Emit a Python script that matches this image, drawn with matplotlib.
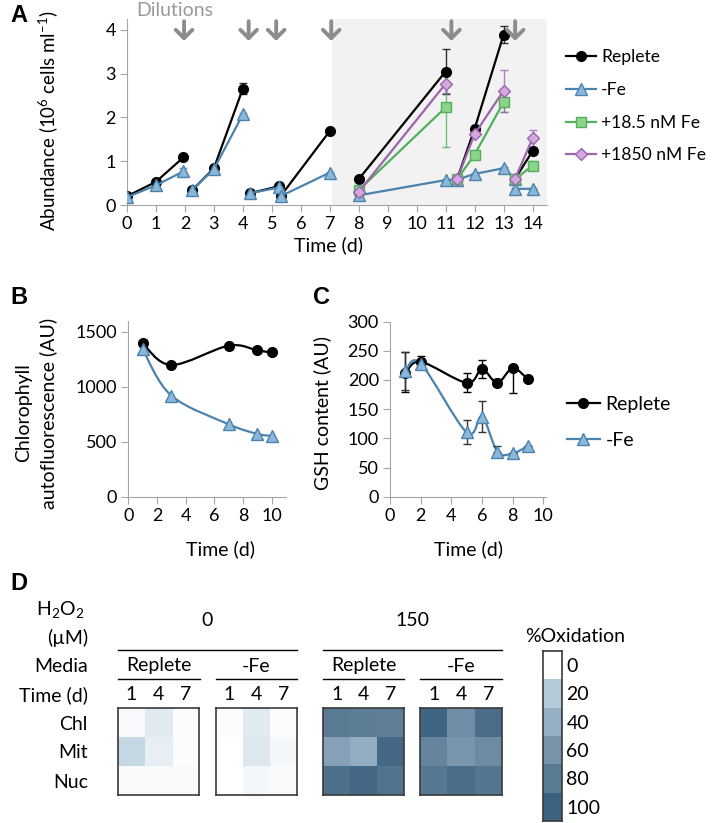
import numpy as np
import matplotlib
matplotlib.use("Agg")
from matplotlib import pyplot as plt
from matplotlib.path import Path
from matplotlib.patches import PathPatch
from matplotlib.colors import LinearSegmentedColormap

plt.rcParams['font.family'] = ['Lato', 'DejaVu Sans']
plt.rcParams['mathtext.fontset'] = 'custom'
plt.rcParams['mathtext.rm'] = 'Lato'
plt.rcParams['mathtext.default'] = 'rm'

nan = np.nan

# ---- panel A data (segments separated by nan = dilutions) ----
rep_x = [0, 1, 1.95, nan, 2.25, 3, 4.0, nan, 4.25, 5.25, nan, 5.3, 7, nan, 8, 11, nan, 11.4, 12, 13, nan, 13.4, 14]
rep_y = [0.2, 0.53, 1.09, nan, 0.34, 0.84, 2.66, nan, 0.27, 0.43, nan, 0.2, 1.69, nan, 0.59, 3.05, nan, 0.6, 1.74, 3.89, nan, 0.6, 1.23]
rep_e = [0.02, 0.03, 0.03, nan, 0.02, 0.03, 0.12, nan, 0.02, 0.03, nan, 0.02, 0.03, nan, 0.02, 0.52, nan, 0.02, 0.04, 0.19, nan, 0.02, 0.04]

fe_x = [0, 1, 1.95, nan, 2.25, 3, 4.0, nan, 4.25, 5.25, nan, 5.3, 7, nan, 8, 11, 11.4, 12, 13, 13.4, nan, 13.4, 14]
fe_y = [0.18, 0.45, 0.77, nan, 0.35, 0.82, 2.07, nan, 0.27, 0.4, nan, 0.2, 0.74, nan, 0.22, 0.57, 0.58, 0.71, 0.84, 0.6, nan, 0.37, 0.37]
fe_e = [0.02, 0.03, 0.08, nan, 0.02, 0.03, 0.03, nan, 0.02, 0.02, nan, 0.02, 0.02, nan, 0.02, 0.02, 0.02, 0.03, 0.03, 0.02, nan, 0.02, 0.02]

lo_x = [8, 11, nan, 11.4, 12, 13, nan, 13.4, 14]
lo_y = [0.34, 2.23, nan, 0.59, 1.15, 2.35, nan, 0.59, 0.9]
lo_e = [0.02, 0.9, nan, 0.02, 0.05, 0.22, nan, 0.02, 0.1]

hi_x = [8, 11, nan, 11.4, 12, 13, nan, 13.4, 14]
hi_y = [0.3, 2.77, nan, 0.6, 1.62, 2.61, nan, 0.6, 1.52]
hi_e = [0.02, 0.2, nan, 0.02, 0.05, 0.48, nan, 0.02, 0.2]

dilution_days = [1.97, 4.2, 5.15, 7.05, 11.2, 13.4]

# ---- panel B data ----
chl_days = [1, 3, 7, 9, 10]
chl_rep = [1395, 1197, 1373, 1330, 1311]
chl_fe = [1340, 919, 659, 571, 553]

# ---- panel C data ----
gsh_days = [1, 2, 5, 6, 7, 8, 9]
gsh_rep = [211, 231, 195, 218, 195, 220, 201]
gsh_rep_lo = [31, 12, 16, 15, 5, 42, 0]
gsh_rep_hi = [37, 10, 17, 16, 6, 0, 0]
gsh_fe = [215, 228, 110, 137, 77, 74, 87]
gsh_fe_lo = [32, 0, 20, 27, 0, 0, 0]
gsh_fe_hi = [32, 0, 22, 27, 9, 0, 0]

# ---- panel D data (% oxidation, rows Chl/Mit/Nuc, cols day 1/4/7) ----
ox_0_rep = [[2, 8, 1], [15, 6, 1], [2, 2, 2]]
ox_0_fe = [[1, 8, 1], [0, 9, 3], [0, 3, 2]]
ox_150_rep = [[80, 78, 76], [50, 42, 95], [88, 95, 85]]
ox_150_fe = [[97, 65, 90], [72, 58, 67], [82, 90, 83]]
rows = ["Chl", "Mit", "Nuc"]
days_d = ["1", "4", "7"]
levels = [0, 20, 40, 60, 80, 100]
level_colors = ['#ffffff', '#b3cadb', '#95b0c5', '#7894ab', '#597b94', '#3d6280']

W, H = 714, 823
fig = plt.figure(figsize=(W / 100, H / 100), dpi=100)
FS = 14      # titles / labels
TS = 13      # tick labels


def rect(x0, y0, x1, y1):
    return [x0 / W, 1 - y1 / H, (x1 - x0) / W, (y1 - y0) / H]


def ftext(x, y, s, **kw):
    fig.text(x / W, 1 - y / H, s, **kw)


def excel_axes(ax):
    for s in ['top', 'right']:
        ax.spines[s].set_visible(False)
    for s in ['left', 'bottom']:
        ax.spines[s].set_color('#a6a6a6')
    ax.tick_params(direction='out', length=5, color='#a6a6a6', labelsize=TS, pad=3)


def smooth(ax, x, y, color, lw=1.6):
    p = np.column_stack([x, y]).astype(float)
    n = len(p)
    verts = [p[0]]
    codes = [Path.MOVETO]
    for i in range(n - 1):
        a = p[i - 1] if i > 0 else p[i]
        d = p[i + 2] if i + 2 < n else p[i + 1]
        c1 = p[i] + (p[i + 1] - a) / 6
        c2 = p[i + 1] - (d - p[i]) / 6
        verts += [c1, c2, p[i + 1]]
        codes += [Path.CURVE4] * 3
    ax.add_patch(PathPatch(Path(verts, codes), fill=False, edgecolor=color, lw=lw, zorder=2))


BLUE_L, BLUE_F = '#4a83ad', '#8db7d8'
GREEN_L, GREEN_F = '#52b05c', '#8ed38c'
PURP_L, PURP_F = '#9a65ab', '#d2a8df'

# ================= A =================
axA = fig.add_axes(rect(127, 19, 547, 205))
excel_axes(axA)
axA.axvspan(7.07, 14.5, ymin=0, ymax=1, color='#f2f2f2', zorder=0, lw=0)
series = [
    (rep_x, rep_y, rep_e, 'k', 'k', 'k', 'o', 7, 'Replete'),
    (fe_x, fe_y, fe_e, BLUE_L, BLUE_F, BLUE_L, '^', 8, '-Fe'),
    (lo_x, lo_y, lo_e, GREEN_L, GREEN_F, GREEN_L, 's', 7, '+18.5 nM Fe'),
    (hi_x, hi_y, hi_e, PURP_L, PURP_F, PURP_L, 'D', 6, '+1850 nM Fe'),
]
for x, y, e, lc, fc, ec, m, ms, lab in series:
    axA.errorbar(x, y, yerr=e, fmt='none', ecolor=lc, elinewidth=1, capsize=3, zorder=2, alpha=0.8)
    axA.plot(x, y, color=lc, lw=1.6, marker=m, ms=ms, mfc=fc, mec=ec, mew=1, label=lab, zorder=3)
axA.set_xlim(0, 14.5)
axA.set_ylim(0, 4.25)
axA.set_xticks(range(15))
axA.set_yticks(range(5))
for d in dilution_days:
    axA.annotate('', xy=(d, 3.75), xytext=(d, 4.2), annotation_clip=False,
                 arrowprops=dict(arrowstyle='->,head_width=0.6,head_length=0.6', color='#8c8c8c', lw=2.8,
                                 shrinkA=0, shrinkB=0))
ftext(175, 11, 'Dilutions', color='#999999', fontsize=FS, ha='center', va='center')
ftext(328, 245, 'Time (d)', fontsize=FS, ha='center', va='center')
ftext(48, 121, 'Abundance (10$^{6}$ cells ml$^{-1}$)', fontsize=13.5, rotation=90, ha='center', va='center')
axA.legend(loc='center left', bbox_to_anchor=(1.045, 0.53), frameon=False, fontsize=12.6,
           handlelength=1.7, labelspacing=0.95, handletextpad=0.3, borderaxespad=0, borderpad=0)

# ================= B =================
axB = fig.add_axes(rect(128.3, 320.7, 286, 496.7))
excel_axes(axB)
smooth(axB, chl_days, chl_rep, 'k')
smooth(axB, chl_days, chl_fe, BLUE_L)
axB.plot(chl_days, chl_rep, ls='none', marker='o', ms=7, mfc='k', mec='k', zorder=3)
axB.plot(chl_days, chl_fe, ls='none', marker='^', ms=8, mfc=BLUE_F, mec=BLUE_L, zorder=3)
axB.set_xlim(0, 11)
axB.set_ylim(0, 1600)
axB.set_xticks([0, 2, 4, 6, 8, 10])
axB.set_yticks([0, 500, 1000, 1500])
ftext(221, 549, 'Time (d)', fontsize=FS, ha='center', va='center')
ftext(36, 413, 'Chlorophyll\nautofluorescence (AU)', fontsize=FS, rotation=90, ha='center', va='center',
      linespacing=1.5)

# ================= C =================
axC = fig.add_axes(rect(390, 321.5, 546.4, 496.7))
excel_axes(axC)
smooth(axC, gsh_days, gsh_rep, 'k')
smooth(axC, gsh_days, gsh_fe, BLUE_L)
axC.errorbar(gsh_days, gsh_rep, yerr=[gsh_rep_lo, gsh_rep_hi], fmt='none', ecolor='k', elinewidth=1, capsize=3, zorder=2)
axC.errorbar(gsh_days, gsh_fe, yerr=[gsh_fe_lo, gsh_fe_hi], fmt='none', ecolor='#333333', elinewidth=1, capsize=3, zorder=2)
axC.plot(gsh_days, gsh_rep, ls='none', marker='o', ms=7, mfc='k', mec='k', zorder=3)
axC.plot(gsh_days, gsh_fe, ls='none', marker='^', ms=8, mfc=BLUE_F, mec=BLUE_L, zorder=3)
axC.plot([], [], color='k', lw=1.6, marker='o', ms=7, label='Replete')
axC.plot([], [], color=BLUE_L, lw=1.6, marker='^', ms=8, mfc=BLUE_F, mec=BLUE_L, label='-Fe')
axC.set_xlim(0, 10.2)
axC.set_ylim(0, 300)
axC.set_xticks([0, 2, 4, 6, 8, 10])
axC.set_yticks(range(0, 301, 50))
axC.legend(loc='center left', bbox_to_anchor=(1.13, 0.425), frameon=False, fontsize=14,
           handlelength=1.7, labelspacing=1.0, handletextpad=0.3, borderaxespad=0, borderpad=0)
ftext(468, 549, 'Time (d)', fontsize=FS, ha='center', va='center')
ftext(322, 413, 'GSH content (AU)', fontsize=FS, rotation=90, ha='center', va='center')

# ================= D =================
cmap = LinearSegmentedColormap.from_list('ox', list(zip(np.array(levels) / 100, level_colors)))
blocks = [(118, 199.3, ox_0_rep), (215.7, 296.7, ox_0_fe), (323.3, 404.3, ox_150_rep), (420.3, 501.7, ox_150_fe)]
for x0, x1, vals in blocks:
    ax = fig.add_axes(rect(x0, 708, x1, 795))
    ax.imshow(vals, cmap=cmap, vmin=0, vmax=100, aspect='auto', interpolation='nearest')
    ax.set_xticks([])
    ax.set_yticks([])
    for s in ax.spines.values():
        s.set_color('#3a3a3a')
        s.set_linewidth(1.2)
    cw = (x1 - x0) / 3
    for i, lab in enumerate(days_d):
        ftext(x0 + cw * (i + 0.5), 695, lab, fontsize=FS, ha='center', va='center')

for i, lab in enumerate(rows):
    ftext(88, 724 + 29 * i, lab, fontsize=FS, ha='right', va='center')
ftext(88, 695, 'Time (d)', fontsize=FS, ha='right', va='center')
ftext(88, 667, 'Media', fontsize=FS, ha='right', va='center')
ftext(88, 638, '(µM)', fontsize=FS, ha='right', va='center')
ftext(84, 609, 'H$_2$O$_2$', fontsize=FS, ha='right', va='center')
ftext(207, 621, '0', fontsize=FS, ha='center', va='center')
ftext(412, 621, '150', fontsize=FS, ha='center', va='center')
for xa, xb in [(118, 297), (323, 502)]:
    fig.add_artist(plt.Line2D([xa / W, xb / W], [1 - 650 / H] * 2, color='k', lw=1))
for (xa, xb), lab in zip([(118, 200), (215.7, 297), (323, 404), (420, 502)], ['Replete', '-Fe', 'Replete', '-Fe']):
    fig.add_artist(plt.Line2D([xa / W, xb / W], [1 - 679 / H] * 2, color='k', lw=1))
    ftext((xa + xb) / 2, 666, lab, fontsize=FS, ha='center', va='center')

axcb = fig.add_axes(rect(543.3, 650.7, 562.3, 820.7))
axcb.imshow(np.array(levels)[:, None], cmap=cmap, vmin=0, vmax=100, aspect='auto', interpolation='nearest')
axcb.set_xticks([])
axcb.yaxis.tick_right()
axcb.set_yticks(range(len(levels)))
axcb.set_yticklabels([str(v) for v in levels])
axcb.tick_params(axis='y', length=0, labelsize=FS, pad=3)
for s in axcb.spines.values():
    s.set_color('#3a3a3a')
    s.set_linewidth(1.2)
ftext(575, 637, '%Oxidation', fontsize=FS, ha='center', va='center')

for lab, x, y in [('A', 10, 15), ('B', 10, 298), ('C', 313, 298), ('D', 10, 583)]:
    ftext(x, y, lab, fontsize=17, fontweight='bold', family='Liberation Sans', ha='left', va='center')

fig.savefig('out.png', dpi=100)
